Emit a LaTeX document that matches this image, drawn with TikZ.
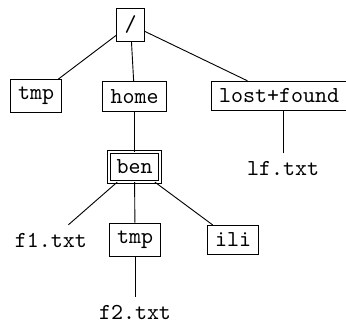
\documentclass[tikz,border=0pt]{standalone}
\begin{document}
\begin{tikzpicture}[x=0.4375pt,y=-0.4375pt,
  box/.style={draw,font=\ttfamily},
  leaf/.style={font=\ttfamily},
  dbox/.style={draw,double,double distance=1pt,font=\ttfamily}]
\useasboundingbox (0,0) rectangle (346,322);
\node[box] (root) at (130.5,24.5) {/};
\node[box] (tmpa) at (36,96) {tmp};
\node[box] (home) at (134.5,96.5) {home};
\node[box] (lost) at (279,96) {lost+found};
\node[leaf] (lf) at (283,168.5) {lf.txt};
\node[dbox] (ben) at (134.5,167) {ben};
\node[leaf] (f1) at (51,240) {f1.txt};
\node[box] (tmpb) at (135,239.5) {tmp};
\node[box] (ili) at (233,240) {ili};
\node[leaf] (f2) at (135,312) {f2.txt};
\draw (root) -- (tmpa);
\draw (root) -- (home);
\draw (root) -- (lost);
\draw (lf.north) -- (lf.north |- lost.south);
\draw (home) -- (ben);
\draw (ben) -- (f1);
\draw (ben) -- (tmpb);
\draw (ben) -- (ili);
\draw (tmpb) -- (f2);
\end{tikzpicture}
\end{document}
